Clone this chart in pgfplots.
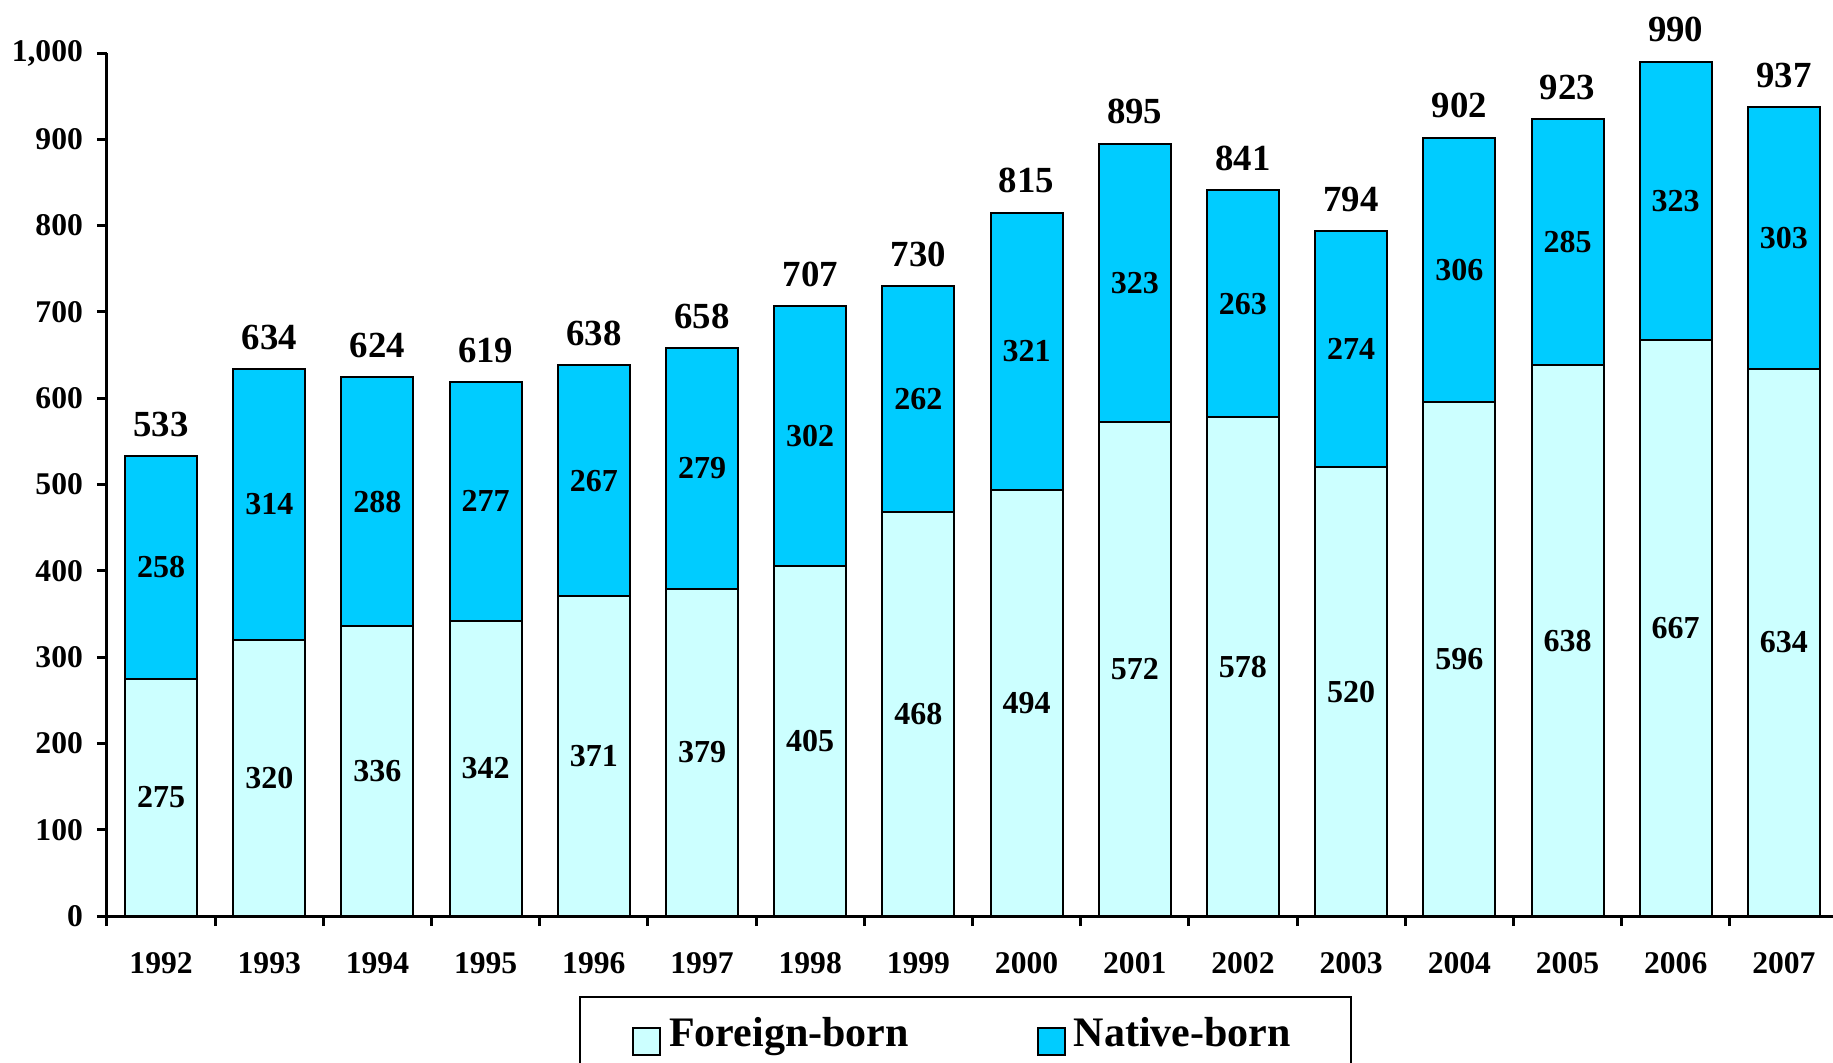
\documentclass[border=0pt]{standalone}
\usepackage{pgfplots}
\usepackage{pgfplotstable}
\pgfplotsset{compat=1.18}
\usepackage{fontspec}
\setmainfont{Liberation Serif}
\definecolor{foreign}{HTML}{CCFFFF}
\definecolor{native}{HTML}{00CCFF}
\pgfplotstableread{
x year f n t
0 1992 275 258 533
1 1993 320 314 634
2 1994 336 288 624
3 1995 342 277 619
4 1996 371 267 638
5 1997 379 279 658
6 1998 405 302 707
7 1999 468 262 730
8 2000 494 321 815
9 2001 572 323 895
10 2002 578 263 841
11 2003 520 274 794
12 2004 596 306 902
13 2005 638 285 923
14 2006 667 323 990
15 2007 634 303 937
}\data
\begin{document}
\begin{tikzpicture}
\pgfplotsset{
  common/.style={width=432.75pt, height=215.75pt, scale only axis,
    xmin=-0.5, xmax=15.5, ymin=0, ymax=1000, enlargelimits=false},
  sq/.style={legend image code/.code={\draw[##1, line width=0.5pt] (0pt,-3.4pt) rectangle (6.75pt,3.4pt);}}
}
\begin{axis}[common, ybar stacked, bar width=18pt,
  axis x line*=bottom, axis y line*=left,
  axis line style={line width=0.75pt, -},
  ytick={0,100,...,1000},
  xtick={0,...,15}, xticklabels from table={\data}{year},
  minor xtick={-0.5,0.5,...,15.5},
  major x tick style={draw=none},
  minor x tick style={black, line width=0.75pt},
  y tick style={black, line width=0.75pt},
  tick align=outside, major tick length=2.5pt, minor tick length=2.5pt,
  /pgf/number format/assume math mode=true,
  /pgf/number format/1000 sep={,},
  yticklabel style={font=\fontsize{7.9}{9}\selectfont\bfseries},
  xticklabel style={font=\fontsize{7.9}{9}\selectfont\bfseries, yshift=-3pt},
  sq,
  legend columns=2,
  legend style={at={(0.496,-0.0927)}, anchor=north, draw=black, line width=0.5pt,
    inner xsep=13pt, inner ysep=3pt,
    font=\fontsize{10.5}{12}\selectfont\bfseries,
    nodes={text depth=5pt},
    /tikz/every even column/.append style={column sep=30pt}},
]
\addplot[fill=foreign, draw=black, line width=0.5pt, sq] table[x=x, y=f] {\data};
\addlegendentry{Foreign-born}
\addplot[fill=native, draw=black, line width=0.5pt, sq] table[x=x, y=n] {\data};
\addlegendentry{Native-born}
\end{axis}
\begin{axis}[common, hide axis]
\addplot[draw=none, mark=none, nodes near coords, point meta=explicit symbolic,
  every node near coord/.append style={font=\fontsize{8}{9}\selectfont\bfseries, anchor=center}]
  table[x=x, y expr=\thisrow{f}/2, meta=f] {\data};
\addplot[draw=none, mark=none, nodes near coords, point meta=explicit symbolic,
  every node near coord/.append style={font=\fontsize{8}{9}\selectfont\bfseries, anchor=center}]
  table[x=x, y expr=\thisrow{f}+\thisrow{n}/2, meta=n] {\data};
\addplot[draw=none, mark=none, nodes near coords, point meta=explicit symbolic,
  every node near coord/.append style={font=\fontsize{9.2}{10}\selectfont\bfseries, anchor=south, yshift=1.3pt}]
  table[x=x, y=t, meta=t] {\data};
\end{axis}
\pgfresetboundingbox
\useasboundingbox (-26.75pt,-36.5pt) rectangle (431.5pt,229pt);
\end{tikzpicture}
\end{document}
